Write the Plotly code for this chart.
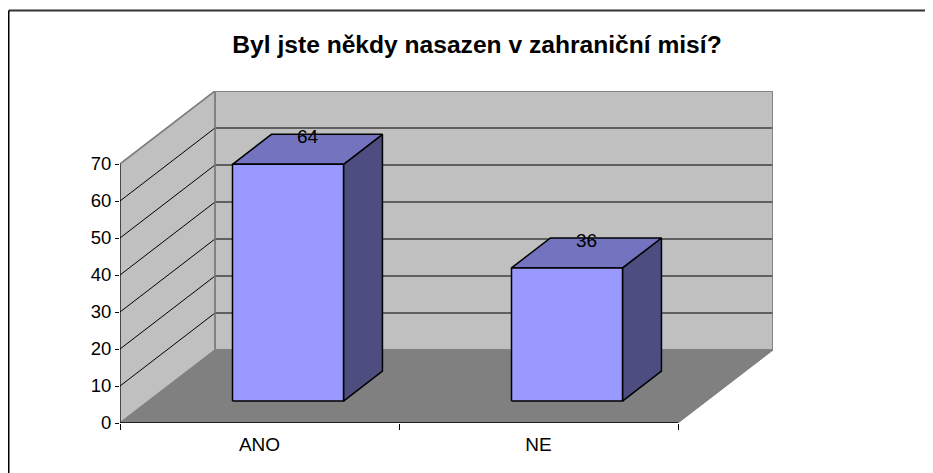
import plotly.graph_objects as go

# Data
categories = ["ANO", "NE"]
values = [64, 36]
y_ticks = [0, 10, 20, 30, 40, 50, 60, 70]
title_text = "Byl jste někdy nasazen v zahraniční misí?"

# Oblique projection of the 3D chart box
PX_PER_CAT = 279.0
PX_PER_VAL = 259.0 / 70.0
DEPTH_DX = 95.0 / PX_PER_CAT
DEPTH_DY = 73.0 / PX_PER_VAL
BAR_HALF = 55.5 / PX_PER_CAT
D0, D1 = 0.30, 0.71
YMAX = 70
NCAT = len(categories)


def P(c, v, d):
    return c + d * DEPTH_DX, v + d * DEPTH_DY


def poly(pts, fill, line="#000000", width=1.5):
    xy = [P(*p) for p in pts]
    xy.append(xy[0])
    return go.Scatter(x=[a for a, _ in xy], y=[b for _, b in xy], mode="lines", fill="toself",
                      fillcolor=fill, line=dict(color=line, width=width),
                      hoverinfo="skip", showlegend=False, cliponaxis=False)


def seg(p, q, color="#000000", width=1):
    a, b = P(*p), P(*q)
    return go.Scatter(x=[a[0], b[0]], y=[a[1], b[1]], mode="lines",
                      line=dict(color=color, width=width),
                      hoverinfo="skip", showlegend=False, cliponaxis=False)


traces = []
GREY = "#C0C0C0"
EDGE = "#808080"
# walls and floor
traces.append(poly([(0, 0, 1), (NCAT, 0, 1), (NCAT, YMAX, 1), (0, YMAX, 1)], GREY, EDGE, 1.5))
traces.append(poly([(0, 0, 0), (0, 0, 1), (0, YMAX, 1), (0, YMAX, 0)], GREY, EDGE, 1.5))
traces.append(poly([(0, 0, 0), (NCAT, 0, 0), (NCAT, 0, 1), (0, 0, 1)], "#808080", EDGE, 1))
# gridlines
for t in y_ticks[1:-1]:
    traces.append(seg((0, t, 0), (0, t, 1)))
    traces.append(seg((0, t, 1), (NCAT, t, 1)))
traces.append(seg((0, YMAX, 0), (0, YMAX, 1), EDGE, 1.5))
traces.append(seg((0, 0, 1), (NCAT, 0, 1), EDGE, 1.5))
traces.append(seg((NCAT, 0, 1), (NCAT, YMAX, 1), EDGE, 1.5))
traces.append(seg((0, YMAX, 1), (NCAT, YMAX, 1), EDGE, 1.5))
traces.append(seg((0, 0, 1), (0, YMAX, 1), EDGE, 1.5))
# front axis lines
traces.append(seg((0, 0, 0), (NCAT, 0, 0), "#000000", 1.5))
traces.append(seg((0, 0, 0), (0, YMAX, 0), "#000000", 1))

# bars
label_x, label_y = [], []
for i, v in enumerate(values):
    c = i + 0.5
    l, r = c - BAR_HALF, c + BAR_HALF
    traces.append(poly([(r, 0, D0), (r, 0, D1), (r, v, D1), (r, v, D0)], "#4D4D80"))
    traces.append(poly([(l, v, D0), (r, v, D0), (r, v, D1), (l, v, D1)], "#7373BF"))
    traces.append(poly([(l, 0, D0), (r, 0, D0), (r, v, D0), (l, v, D0)], "#9999FF"))
    lx, ly = P(c, v, (D0 + D1) / 2)
    label_x.append(lx)
    label_y.append(ly + 3.0)
traces.append(go.Scatter(x=label_x, y=label_y, mode="text", text=[str(v) for v in values],
                         textposition="middle center",
                         textfont=dict(family="Liberation Sans", size=19, color="#000000"),
                         hoverinfo="skip", showlegend=False, cliponaxis=False))

# The page has an 8 px body margin, so the figure is 8 px smaller than the window.
fig = go.Figure(traces)
fig.update_layout(
    width=925, height=465, autosize=False,
    margin=dict(l=112, r=160, t=83, b=50, pad=0),
    paper_bgcolor="#FFFFFF", plot_bgcolor="rgba(0,0,0,0)",
    showlegend=False,
    font=dict(family="Liberation Sans", size=18, color="#000000"),
    title=dict(text="<b>" + title_text + "</b>", x=469 / 925, xanchor="center",
               y=1 - 36 / 465, yanchor="middle",
               font=dict(family="Liberation Sans", size=24.6, color="#000000")),
    xaxis=dict(range=[0, NCAT + DEPTH_DX], tickvals=[i + 0.5 for i in range(NCAT)],
               ticktext=categories, ticks="", showgrid=False, zeroline=False, showline=False,
               ticklabelstandoff=8, tickfont=dict(size=19),
               minor=dict(tickvals=list(range(NCAT + 1)), ticks="outside", ticklen=6,
                          tickcolor="#000000", tickwidth=1, showgrid=False)),
    yaxis=dict(range=[0, YMAX + DEPTH_DY], tickvals=y_ticks, ticks="outside", ticklen=4,
               tickcolor="#000000", tickwidth=1, showgrid=False, zeroline=False, showline=False,
               tickfont=dict(size=18.5)),
    shapes=[
        dict(type="line", xref="paper", yref="paper", layer="below",
             x0=-111.25 / 653, x1=813 / 653, y0=(415 - 2.5) / 332, y1=(415 - 2.5) / 332,
             line=dict(color="#333333", width=2)),
        dict(type="line", xref="paper", yref="paper", layer="below",
             x0=-111.25 / 653, x1=-111.25 / 653, y0=-50 / 332, y1=(415 - 2.5) / 332,
             line=dict(color="#000000", width=1.5)),
    ],
)
fig.write_html("out.html")
